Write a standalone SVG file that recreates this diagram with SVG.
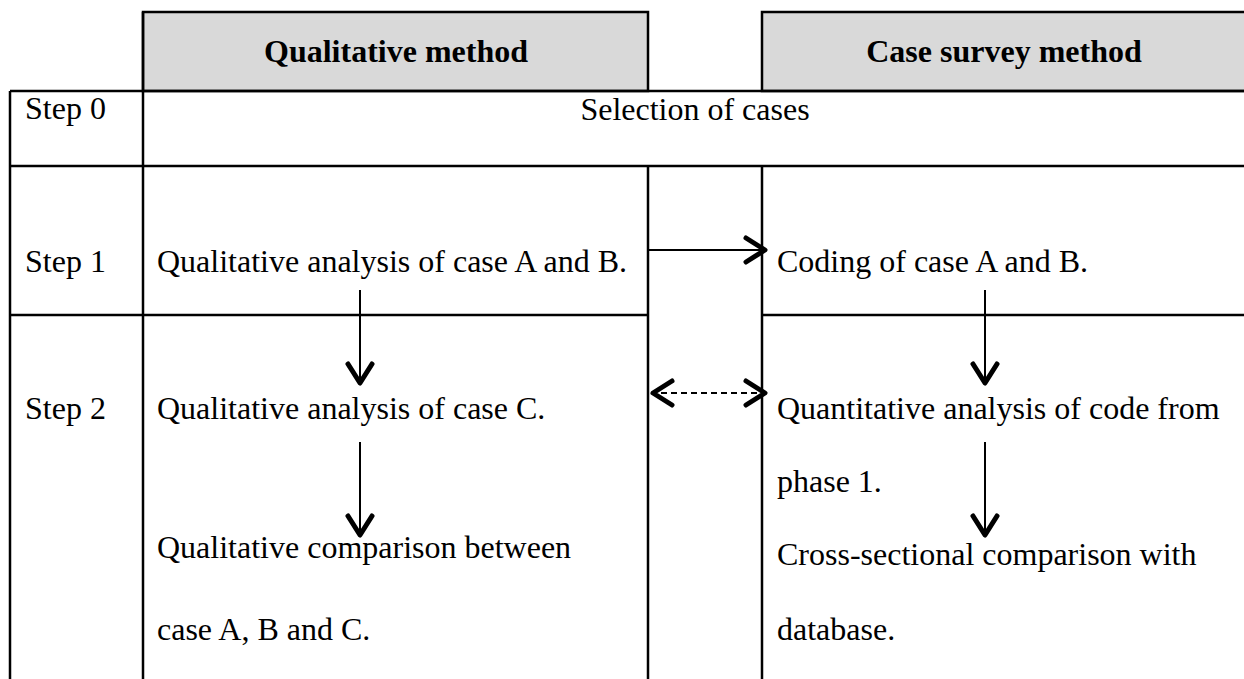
<svg xmlns="http://www.w3.org/2000/svg" width="1244" height="679" viewBox="0 0 1244 679">
<style>
.grid{stroke:#000;stroke-width:2.5;fill:none}
.hdr{fill:#d9d9d9;stroke:#000;stroke-width:2.5}
.t{font-family:'Liberation Serif','DejaVu Serif',serif;font-size:32px;fill:#000}
.b{font-weight:bold;text-anchor:middle}
.m{text-anchor:middle}
.arr{stroke:#000;stroke-width:2;fill:none}
.dash{stroke-dasharray:6 4}
</style>
<defs>
<marker id="chev" viewBox="-26 -16 30 32" refX="0" refY="0" markerWidth="30" markerHeight="32" markerUnits="userSpaceOnUse" orient="auto-start-reverse">
<path d="M -21 -12 L -2 0 L -21 12" fill="none" stroke="#000" stroke-width="5" stroke-linecap="round" stroke-linejoin="round"/>
</marker>
</defs>
<rect width="1244" height="679" fill="#fff"/>
<g id="table">
<rect class="hdr" x="143" y="12" width="505" height="79"/>
<rect class="hdr" x="762" y="12" width="490" height="79"/>
<path class="grid" d="M10 91H1244M10 166H1244M10 315H648M762 315H1244M10 91V679M143 12V679M648 166V679M762 166V679"/>
</g>
<g id="header-qualitative"><text class="t b" font-family="Liberation Serif, serif" x="396" y="62">Qualitative method</text></g>
<g id="header-casesurvey"><text class="t b" font-family="Liberation Serif, serif" x="1004" y="62">Case survey method</text></g>
<g id="step0-label"><text class="t" font-family="Liberation Serif, serif" x="25" y="119">Step 0</text></g>
<g id="selection"><text class="t m" font-family="Liberation Serif, serif" x="695" y="120">Selection of cases</text></g>
<g id="step1-label"><text class="t" font-family="Liberation Serif, serif" x="25" y="272">Step 1</text></g>
<g id="qual-ab"><text class="t" font-family="Liberation Serif, serif" x="157" y="272">Qualitative analysis of case A and B.</text></g>
<g id="coding-ab"><text class="t" font-family="Liberation Serif, serif" x="777" y="272">Coding of case A and B.</text></g>
<g id="step2-label"><text class="t" font-family="Liberation Serif, serif" x="25" y="419">Step 2</text></g>
<g id="qual-c"><text class="t" font-family="Liberation Serif, serif" x="157" y="419">Qualitative analysis of case C.</text></g>
<g id="quant-code"><text class="t" font-family="Liberation Serif, serif" x="777" y="419">Quantitative analysis of code from</text><text class="t" font-family="Liberation Serif, serif" x="777" y="492">phase 1.</text></g>
<g id="qual-compare"><text class="t" font-family="Liberation Serif, serif" x="157" y="558">Qualitative comparison between</text><text class="t" font-family="Liberation Serif, serif" x="157" y="640">case A, B and C.</text></g>
<g id="cross-compare"><text class="t" font-family="Liberation Serif, serif" x="777" y="565">Cross-sectional comparison with</text><text class="t" font-family="Liberation Serif, serif" x="777" y="640">database.</text></g>
<g id="connectors">
<line class="arr" x1="648" y1="250" x2="767" y2="250" marker-end="url(#chev)"/>
<line class="arr dash" x1="651" y1="393" x2="767" y2="393" marker-start="url(#chev)" marker-end="url(#chev)"/>
<line class="arr" x1="360" y1="290" x2="360" y2="385" marker-end="url(#chev)"/>
<line class="arr" x1="985" y1="290" x2="985" y2="385" marker-end="url(#chev)"/>
<line class="arr" x1="360" y1="442" x2="360" y2="537" marker-end="url(#chev)"/>
<line class="arr" x1="985" y1="442" x2="985" y2="537" marker-end="url(#chev)"/>
</g>
</svg>
